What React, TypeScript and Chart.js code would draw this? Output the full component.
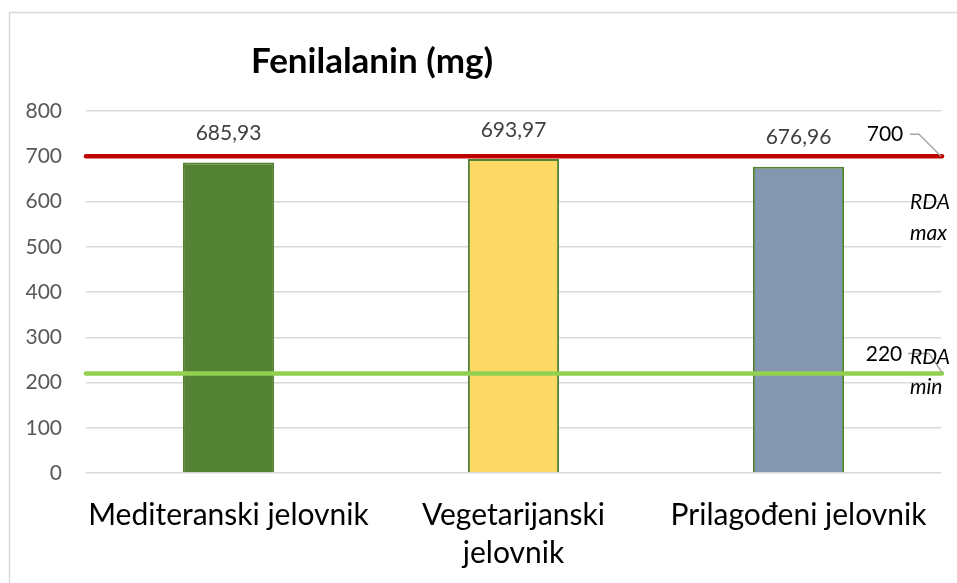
import React, { useEffect, useRef } from "react";
import { Chart, registerables } from "chart.js";

Chart.register(...registerables);

const titleText = "Fenilalanin (mg)";
const categories = [["Mediteranski jelovnik"], ["Vegetarijanski", "jelovnik"], ["Prilagođeni jelovnik"]];
const values = [685.93, 693.97, 676.96];
const valueLabels = ["685,93", "693,97", "676,96"];
const barColors = ["#548235", "#FFD966", "#8497B0"];
const barBorders = ["#548235", "#548235", "#548235"];
const rdaMax = 700;
const rdaMin = 220;
const rdaMaxLabel = "700";
const rdaMinLabel = "220";
const rdaMaxText = ["RDA", "max"];
const rdaMinText = ["RDA", "min"];
const yMin = 0;
const yMax = 800;
const yStep = 100;

const FONT = "Lato, 'Open Sans', sans-serif";

const decorPlugin = {
  id: "decor",
  beforeDraw(chart: any) {
    const ctx = chart.ctx;
    ctx.save();
    ctx.fillStyle = "#ffffff";
    ctx.fillRect(0, 0, chart.width, chart.height);
    ctx.strokeStyle = "#D9D9D9";
    ctx.lineWidth = 1.5;
    ctx.strokeRect(9.5, 12.5, chart.width + 10, chart.height + 10);
    ctx.restore();
  },
  afterDatasetsDraw(chart: any) {
    const ctx = chart.ctx;
    const y = chart.scales.y;
    const area = chart.chartArea;
    ctx.save();
    ctx.lineCap = "round";
    ctx.lineWidth = 4.5;
    ctx.strokeStyle = "#C00000";
    const py1 = y.getPixelForValue(rdaMax);
    ctx.beginPath();
    ctx.moveTo(area.left, py1);
    ctx.lineTo(area.right + 1, py1);
    ctx.stroke();
    ctx.strokeStyle = "#92D050";
    const py2 = y.getPixelForValue(rdaMin);
    ctx.beginPath();
    ctx.moveTo(area.left, py2);
    ctx.lineTo(area.right + 1, py2);
    ctx.stroke();
    ctx.restore();
  },
  afterDraw(chart: any) {
    const ctx = chart.ctx;
    const y = chart.scales.y;
    const area = chart.chartArea;
    ctx.save();
    // title
    ctx.fillStyle = "#000000";
    ctx.font = `bold 35px ${FONT}`;
    ctx.textAlign = "center";
    ctx.textBaseline = "middle";
    ctx.fillText(titleText, 372, 62);

    // value labels
    const meta = chart.getDatasetMeta(0);
    ctx.font = `21px ${FONT}`;
    ctx.fillStyle = "#404040";
    meta.data.forEach((bar: any, i: number) => {
      ctx.fillText(valueLabels[i], bar.x, bar.y - 29);
    });

    // RDA labels
    const yMaxPx = y.getPixelForValue(rdaMax);
    const yMinPx = y.getPixelForValue(rdaMin);
    ctx.fillStyle = "#000000";
    ctx.font = `21px ${FONT}`;
    ctx.fillText(rdaMaxLabel, 885, yMaxPx - 22);
    ctx.fillText(rdaMinLabel, 884, yMinPx - 19);

    ctx.strokeStyle = "#A6A6A6";
    ctx.lineWidth = 1.5;
    ctx.beginPath();
    ctx.moveTo(910, yMaxPx - 22);
    ctx.lineTo(919, yMaxPx - 22);
    ctx.lineTo(area.right, yMaxPx);
    ctx.stroke();
    ctx.beginPath();
    ctx.moveTo(908, yMinPx - 20);
    ctx.lineTo(929, yMinPx - 20);
    ctx.lineTo(area.right + 1, yMinPx - 1);
    ctx.stroke();

    ctx.fillStyle = "#000000";
    ctx.font = `italic 21px ${FONT}`;
    ctx.textAlign = "left";
    ctx.fillText(rdaMaxText[0], 910, yMaxPx + 46);
    ctx.fillText(rdaMaxText[1], 910, yMaxPx + 77);
    ctx.fillText(rdaMinText[0], 910, yMinPx - 16);
    ctx.fillText(rdaMinText[1], 910, yMinPx + 14);
    ctx.restore();
  },
};

export default function App() {
  const ref = useRef<HTMLCanvasElement>(null);
  useEffect(() => {
    if (!ref.current) return;
    const chart = new Chart(ref.current, {
      type: "bar",
      data: {
        labels: categories as any,
        datasets: [
          {
            data: values,
            backgroundColor: barColors,
            borderColor: barBorders,
            borderWidth: 2,
            categoryPercentage: 0.32,
            barPercentage: 1,
          },
        ],
      },
      options: {
        animation: false,
        responsive: false,
        maintainAspectRatio: false,
        layout: { padding: { left: 20, right: 16, top: 111, bottom: 0 } },
        plugins: {
          legend: { display: false },
          title: { display: false },
          tooltip: { enabled: false },
        },
        scales: {
          x: {
            type: "category",
            grid: { display: false, drawTicks: false },
            border: { display: false },
            ticks: {
              color: "#000000",
              font: { family: FONT, size: 30, lineHeight: 1.25 },
              padding: 24,
              maxRotation: 0,
              autoSkip: false,
            },
            afterFit(scale: any) {
              scale.height = 110;
            },
          },
          y: {
            min: yMin,
            max: yMax,
            ticks: {
              stepSize: yStep,
              color: "#595959",
              font: { family: FONT, size: 21 },
              padding: 24,
            },
            grid: { color: "#D9D9D9", lineWidth: 1.5, drawTicks: false },
            border: { display: false },
            afterFit(scale: any) {
              scale.width = 66;
            },
          },
        },
      } as any,
      plugins: [decorPlugin],
    });
    return () => chart.destroy();
  }, []);
  return (
    <div style={{ position: "fixed", left: 0, top: 0, width: 957, height: 583 }}>
      <canvas ref={ref} width={957} height={583} style={{ width: 957, height: 583 }} />
    </div>
  );
}
